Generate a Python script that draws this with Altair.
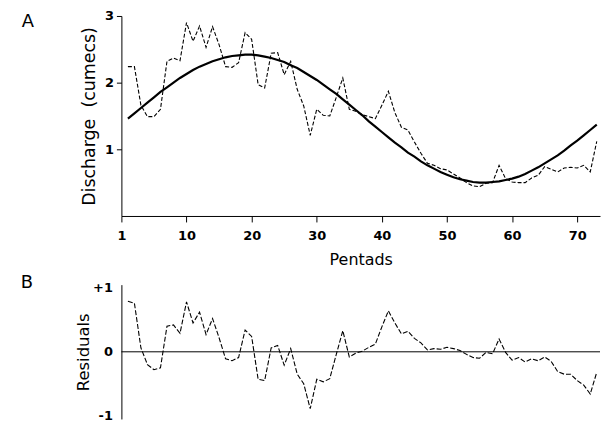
import altair as alt
import pandas as pd

# Pentad index (73 five-day periods in a year)
pentad = list(range(1, 74))

# Mean discharge per pentad (cumecs)
observed = [
    2.24, 2.24, 1.66, 1.49, 1.49, 1.60, 2.32, 2.37, 2.33, 2.90,
    2.62, 2.85, 2.53, 2.84, 2.57, 2.24, 2.23, 2.30, 2.75, 2.65,
    1.97, 1.92, 2.44, 2.45, 2.12, 2.32, 1.90, 1.65, 1.21, 1.60,
    1.51, 1.50, 1.78, 2.07, 1.60, 1.57, 1.52, 1.49, 1.46, 1.66,
    1.87, 1.55, 1.33, 1.29, 1.11, 0.94, 0.79, 0.76, 0.71, 0.69,
    0.63, 0.57, 0.50, 0.45, 0.44, 0.49, 0.50, 0.76, 0.56, 0.51,
    0.50, 0.50, 0.57, 0.61, 0.74, 0.70, 0.66, 0.72, 0.73, 0.72,
    0.76, 0.66, 1.12,
]

# Fitted annual harmonic (cumecs)
fitted = [
    1.46, 1.54, 1.62, 1.70, 1.78, 1.86, 1.93, 2.00, 2.07, 2.13,
    2.19, 2.24, 2.28, 2.32, 2.35, 2.38, 2.40, 2.41, 2.42, 2.42,
    2.41, 2.39, 2.37, 2.34, 2.31, 2.26, 2.22, 2.16, 2.10, 2.04,
    1.97, 1.90, 1.83, 1.75, 1.67, 1.59, 1.51, 1.42, 1.34, 1.26,
    1.18, 1.10, 1.03, 0.95, 0.89, 0.82, 0.76, 0.71, 0.66, 0.62,
    0.58, 0.55, 0.53, 0.51, 0.50, 0.50, 0.51, 0.52, 0.54, 0.56,
    0.59, 0.63, 0.68, 0.73, 0.79, 0.85, 0.91, 0.98, 1.06, 1.13,
    1.21, 1.29, 1.37,
]

# Residuals about the fitted harmonic
residual = [
    0.79, 0.76, 0.06, -0.20, -0.28, -0.25, 0.40, 0.42, 0.29, 0.78,
    0.45, 0.62, 0.27, 0.52, 0.22, -0.11, -0.14, -0.09, 0.34, 0.24,
    -0.43, -0.45, 0.06, 0.10, -0.21, 0.05, -0.35, -0.50, -0.89, -0.43,
    -0.47, -0.42, -0.04, 0.33, -0.08, -0.02, 0.01, 0.07, 0.12, 0.39,
    0.64, 0.45, 0.28, 0.32, 0.21, 0.14, 0.03, 0.05, 0.04, 0.07,
    0.05, 0.02, -0.04, -0.09, -0.10, -0.01, -0.03, 0.20, -0.01, -0.13,
    -0.09, -0.16, -0.11, -0.14, -0.08, -0.15, -0.31, -0.35, -0.35, -0.45,
    -0.52, -0.66, -0.32,
]

x_tick_values = list(range(0, 71, 5))
discharge_ticks = [1, 2, 3]
residual_ticks = [-1, 0, 1]

df = pd.DataFrame({
    "pentad": pentad,
    "observed": observed,
    "fitted": fitted,
    "residual": residual,
})

FONT = "DejaVu Sans"
PLOT_W = 481
NBSP = "\u00a0"

x_scale = alt.Scale(domain=[0, 73.5], nice=False, zero=False)
base = alt.Chart(df)

# ---- Panel A: discharge with fitted harmonic ----
x_axis = alt.Axis(
    values=x_tick_values,
    labelExpr="datum.value == 0 ? '1' : (datum.value % 10 == 0 ? datum.label : '')",
    labelFlush=False, labelOverlap=False,
    tickSize=6, labelPadding=8, labelFontSize=13, labelFontWeight="bold",
    title="Pentads", titlePadding=9, titleFontSize=16, titleFontWeight="normal",
)
y_axis_a = alt.Axis(
    values=discharge_ticks, format="d", tickSize=5, labelPadding=3,
    labelFontSize=13, labelFontWeight="bold",
    title="Discharge" + NBSP * 2 + "(cumecs)", titlePadding=6, titleFontSize=17.5,
    titleFontWeight="normal",
)
y_scale_a = alt.Scale(domain=[0, 3], nice=False, zero=False)

obs_line = base.mark_line(color="black", strokeWidth=1.1, strokeDash=[4, 2]).encode(
    x=alt.X("pentad:Q", scale=x_scale, axis=x_axis),
    y=alt.Y("observed:Q", scale=y_scale_a, axis=y_axis_a),
)
fit_line = base.mark_line(color="black", strokeWidth=2.2).encode(
    x=alt.X("pentad:Q", scale=x_scale),
    y=alt.Y("fitted:Q", scale=y_scale_a),
)
label_a = alt.Chart(pd.DataFrame({"t": ["A"]})).mark_text(
    font=FONT, fontSize=18, align="center", baseline="middle", color="black"
).encode(x=alt.value(-94), y=alt.value(6), text="t:N")

panel_a = alt.layer(obs_line, fit_line, label_a).properties(width=PLOT_W, height=201)

# ---- Panel B: residuals ----
y_axis_b = alt.Axis(
    values=residual_ticks,
    labelExpr="datum.value > 0 ? '+1' : (datum.value < 0 ? '-1' : '0')",
    tickSize=0, labelPadding=9, labelFontSize=13, labelFontWeight="bold",
    title="Residuals", titlePadding=1, titleFontSize=16.5, titleFontWeight="normal",
)
y_scale_b = alt.Scale(domain=[-1.05, 1.05], nice=False, zero=False)

resid_line = base.mark_line(color="black", strokeWidth=1.1, strokeDash=[5, 2]).encode(
    x=alt.X("pentad:Q", scale=x_scale, axis=None),
    y=alt.Y("residual:Q", scale=y_scale_b, axis=y_axis_b),
)
zero_line = alt.Chart(pd.DataFrame({"y": [0]})).mark_rule(color="black", strokeWidth=1).encode(
    y=alt.Y("y:Q", scale=y_scale_b), x=alt.value(0), x2=alt.value(PLOT_W)
)
label_b = alt.Chart(pd.DataFrame({"t": ["B"]})).mark_text(
    font=FONT, fontSize=18, align="center", baseline="middle", color="black"
).encode(x=alt.value(-95), y=alt.value(-2), text="t:N")

panel_b = alt.layer(zero_line, resid_line, label_b).properties(width=PLOT_W, height=135)

chart = (
    alt.vconcat(panel_a, panel_b, spacing=6)
    .properties(padding={"left": 20, "top": 9, "right": 0, "bottom": 0}, background="white")
    .configure_view(stroke=None)
    .configure_axis(
        domainColor="black", tickColor="black", labelColor="black", titleColor="black",
        labelFont=FONT, titleFont=FONT, grid=False, domainWidth=1, tickWidth=1,
    )
)

chart.save("out.html", embed_options={"renderer": "svg", "actions": False})
